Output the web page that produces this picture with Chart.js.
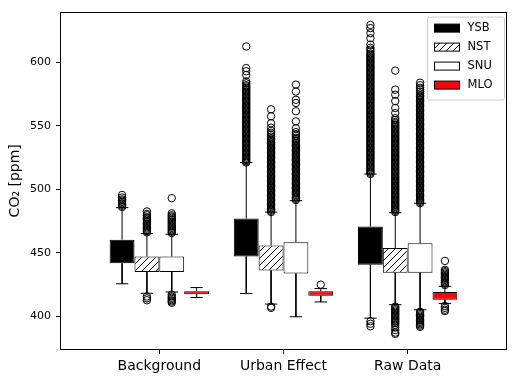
<!DOCTYPE html>
<html>
<head>
<meta charset="utf-8">
<script src="https://cdn.jsdelivr.net/npm/chart.js@4.4.1/dist/chart.umd.min.js"></script>
<style>
  html, body { margin: 0; padding: 0; background: #fff; }
</style>
</head>
<body>
<canvas id="boxChart" width="515" height="382"></canvas>
<script>
const groups = ['Background', 'Urban Effect', 'Raw Data'];
const stations = ['YSB', 'NST', 'SNU', 'MLO'];

// box = [q1, q3], whisker = [low end, high end], one entry per group
const ysbBox = [[441.6, 460.2], [447.0, 477.0], [440.5, 470.6]];
const ysbWhisker = [[425.5, 485.5], [417.8, 521.0], [398.4, 512.0]];
const nstBox = [[434.7, 447.0], [436.0, 455.7], [434.2, 453.6]];
const nstWhisker = [[418.0, 465.0], [409.5, 482.0], [409.0, 481.5]];
const snuBox = [[434.7, 447.0], [433.5, 458.3], [434.2, 457.5]];
const snuWhisker = [[419.0, 464.5], [399.5, 491.0], [405.0, 489.0]];
const mloBox = [[417.3, 419.6], [416.0, 419.6], [413.0, 419.0]];
const mloWhisker = [[414.7, 422.5], [411.2, 421.7], [410.0, 423.5]];

// outliers (dense columns listed point by point)
const ysbFliers = [
  [486, 487, 488, 489, 490, 491, 492, 493.5, 495.5],
  [521, 522, 523, 524, 525, 526, 527, 528, 529, 530, 531, 532, 533, 534, 535, 536, 537, 538, 539, 540,
   541, 542, 543, 544, 545, 546, 547, 548, 549, 550, 551, 552, 553, 554, 555, 556, 557, 558, 559, 560,
   561, 562, 563, 564, 565, 566, 567, 568, 569, 570, 571, 572, 573, 574, 575, 576, 577, 578, 579, 580,
   581, 582, 583.5, 585, 590, 593, 595.5, 612.5],
  [392, 394, 396, 512, 513, 514, 515, 516, 517, 518, 519, 520, 521, 522, 523, 524, 525, 526, 527, 528,
   529, 530, 531, 532, 533, 534, 535, 536, 537, 538, 539, 540, 541, 542, 543, 544, 545, 546, 547, 548,
   549, 550, 551, 552, 553, 554, 555, 556, 557, 558, 559, 560, 561, 562, 563, 564, 565, 566, 567, 568,
   569, 570, 571, 572, 573, 574, 575, 576, 577, 578, 579, 580, 581, 582, 583, 584, 585, 586, 587, 588,
   589, 590, 591, 592, 593, 594, 595, 596, 597, 598, 599, 600, 601, 602, 603, 604, 605, 606, 607, 608.5,
   610, 611.5, 614, 619, 623, 627, 629.5]
];
const nstFliers = [
  [412.5, 414, 415.5, 466, 467, 468, 469, 470, 471, 472, 473, 474, 475, 476, 477, 478, 479.5, 480.5, 482.5],
  [406.5, 407.5, 482, 483, 484, 485, 486, 487, 488, 489, 490, 491, 492, 493, 494, 495, 496, 497, 498, 499,
   500, 501, 502, 503, 504, 505, 506, 507, 508, 509, 510, 511, 512, 513, 514, 515, 516, 517, 518, 519,
   520, 521, 522, 523, 524, 525, 526, 527, 528, 529, 530, 531, 532, 533, 534, 535, 536, 537, 538, 539,
   540, 541.5, 543, 544.5, 546, 548.5, 552, 557.5, 563],
  [386, 387, 389, 391, 393, 394.5, 395.5, 396.5, 397.5, 398.5, 399.5, 400.5, 401.5, 402.5, 403.5, 404.5,
   405.5, 406.5, 407.5, 482, 483, 484, 485, 486, 487, 488, 489, 490, 491, 492, 493, 494, 495, 496, 497,
   498, 499, 500, 501, 502, 503, 504, 505, 506, 507, 508, 509, 510, 511, 512, 513, 514, 515, 516, 517,
   518, 519, 520, 521, 522, 523, 524, 525, 526, 527, 528, 529, 530, 531, 532, 533, 534, 535, 536, 537,
   538, 539, 540, 541, 542, 543, 544, 545, 546, 547, 548, 549, 550, 551, 552, 553, 554.5, 556, 560, 564,
   569.5, 574.5, 578.5, 593.5]
];
const snuFliers = [
  [410.5, 411.5, 412.5, 413.5, 414.5, 415.5, 417, 465.5, 466.5, 467.5, 468.5, 469.5, 470.5, 471.5, 472.5, 473.5,
   474.5, 475.5, 476.5, 477.5, 478.5, 479.5, 481, 493],
  [491.5, 492.5, 493.5, 494.5, 495.5, 496.5, 497.5, 498.5, 499.5, 500.5, 501.5, 502.5, 503.5, 504.5, 505.5, 506.5,
   507.5, 508.5, 509.5, 510.5, 511.5, 512.5, 513.5, 514.5, 515.5, 516.5, 517.5, 518.5, 519.5, 520.5, 521.5, 522.5,
   523.5, 524.5, 525.5, 526.5, 527.5, 528.5, 529.5, 530.5, 531.5, 532.5, 533.5, 534.5, 535.5, 536.5, 537.5, 538.5,
   539.5, 540.5, 542, 543.5, 545, 548, 553.5, 561.5, 568, 570.5, 577, 582.5],
  [391.5, 392.5, 393.5, 394.5, 395.5, 396.5, 397.5, 398.5, 399.5, 400.5, 401.5, 402.5, 403.5, 489, 490, 491, 492,
   493, 494, 495, 496, 497, 498, 499, 500, 501, 502, 503, 504, 505, 506, 507, 508, 509, 510, 511, 512, 513, 514,
   515, 516, 517, 518, 519, 520, 521, 522, 523, 524, 525, 526, 527, 528, 529, 530, 531, 532, 533, 534, 535, 536,
   537, 538, 539, 540, 541, 542, 543, 544, 545, 546, 547, 548, 549, 550, 551, 552, 553, 554, 555, 556, 557, 558,
   559, 560, 561, 562, 563, 564, 565, 566, 567, 568, 569, 570, 571, 572, 573, 574, 575.5, 577, 578.5, 580, 582,
   584]
];
const mloFliers = [
  [],
  [424.8],
  [404, 405, 406.5, 408, 424.5, 425.5, 426.5, 427.5, 428.5, 429.5, 430.5, 431.5, 432.5, 433.5, 434.5, 435.5,
   436.5, 443.5]
];

const yTicks = [400, 450, 500, 550, 600];

const boxes = [ysbBox, nstBox, snuBox, mloBox];
const whiskers = [ysbWhisker, nstWhisker, snuWhisker, mloWhisker];
const fliers = [ysbFliers, nstFliers, snuFliers, mloFliers];

const canvas = document.getElementById('boxChart');
const ctx = canvas.getContext('2d');

function makeHatch() {
  const size = 7;
  const tile = document.createElement('canvas');
  tile.width = size;
  tile.height = size;
  const t = tile.getContext('2d');
  t.fillStyle = '#ffffff';
  t.fillRect(0, 0, size, size);
  t.strokeStyle = '#000000';
  t.lineWidth = 1;
  t.beginPath();
  t.moveTo(0, size); t.lineTo(size, 0);
  t.moveTo(-1, 1); t.lineTo(1, -1);
  t.moveTo(size - 1, size + 1); t.lineTo(size + 1, size - 1);
  t.stroke();
  return ctx.createPattern(tile, 'repeat');
}

const fills = ['#000000', makeHatch(), '#ffffff', '#ff0000'];
const boxWidth = 0.2;   // in x units, 4 boxes per group
const capHalf = 0.05;

function xPos(g, s) {
  return g + 1 + (s - 1.5) * boxWidth;
}

const datasets = [];

stations.forEach((name, s) => {
  datasets.push({
    type: 'bar',
    label: name,
    data: boxes[s].map((b, g) => ({ x: g + 1, y: b })),
    backgroundColor: fills[s],
    borderColor: '#000000',
    borderWidth: 1,
    borderSkipped: false,
    categoryPercentage: 0.8,
    barPercentage: 1.0,
    order: 1
  });
});

stations.forEach((name, s) => {
  const pts = [];
  whiskers[s].forEach((w, g) => {
    const x = xPos(g, s);
    const [q1, q3] = boxes[s][g];
    pts.push({ x, y: q3 }, { x, y: w[1] }, { x, y: null });
    pts.push({ x: x - capHalf, y: w[1] }, { x: x + capHalf, y: w[1] }, { x, y: null });
    pts.push({ x, y: q1 }, { x, y: w[0] }, { x, y: null });
    pts.push({ x: x - capHalf, y: w[0] }, { x: x + capHalf, y: w[0] }, { x, y: null });
  });
  datasets.push({
    type: 'line',
    label: name + ' whiskers',
    data: pts,
    borderColor: '#000000',
    borderWidth: 1,
    pointRadius: 0,
    fill: false,
    spanGaps: false,
    order: 2
  });
});

stations.forEach((name, s) => {
  const pts = [];
  fliers[s].forEach((list, g) => {
    list.forEach(v => pts.push({ x: xPos(g, s), y: v }));
  });
  datasets.push({
    type: 'scatter',
    label: name + ' outliers',
    data: pts,
    pointStyle: 'circle',
    pointRadius: 3.7,
    pointBorderColor: '#000000',
    pointBackgroundColor: 'rgba(0,0,0,0)',
    pointBorderWidth: 1,
    showLine: false,
    order: 0
  });
});

const framePlugin = {
  id: 'frame',
  afterDatasetsDraw(chart) {
    const { left, top, right, bottom } = chart.chartArea;
    const c = chart.ctx;
    c.save();
    c.strokeStyle = '#000000';
    c.lineWidth = 1;
    c.strokeRect(Math.round(left) + 0.5, Math.round(top) + 0.5, Math.round(right - left) - 1, Math.round(bottom - top) - 1);
    c.restore();
  }
};

const legendPlugin = {
  id: 'boxLegend',
  afterDraw(chart) {
    const c = chart.ctx;
    const area = chart.chartArea;
    const w = 77, h = 83;
    const x0 = area.right - w - 2.5;
    const y0 = area.top + 5.5;
    c.save();
    c.beginPath();
    c.roundRect(x0, y0, w, h, 2);
    c.fillStyle = 'rgba(255,255,255,0.8)';
    c.fill();
    c.strokeStyle = '#cccccc';
    c.lineWidth = 1;
    c.stroke();
    c.font = '11.5px "DejaVu Sans"';
    c.textBaseline = 'middle';
    c.textAlign = 'left';
    stations.forEach((name, s) => {
      const cy = y0 + 11 + s * 19;
      c.fillStyle = fills[s];
      c.fillRect(x0 + 7, cy - 4, 25, 8);
      c.strokeStyle = '#000000';
      c.strokeRect(x0 + 7, cy - 4, 25, 8);
      c.fillStyle = '#000000';
      c.fillText(name, x0 + 40, cy);
    });
    c.restore();
  }
};

Chart.defaults.font.family = '"DejaVu Sans", sans-serif';
Chart.defaults.color = '#000000';

new Chart(ctx, {
  type: 'bar',
  data: { datasets },
  options: {
    responsive: false,
    devicePixelRatio: 1,
    animation: false,
    events: [],
    layout: { padding: { left: 4, right: 8, top: 10, bottom: 0 } },
    plugins: {
      legend: { display: false },
      tooltip: { enabled: false }
    },
    scales: {
      x: {
        type: 'linear',
        min: 0.2,
        max: 3.8,
        offset: false,
        grid: { display: true, offset: false, drawOnChartArea: false, drawTicks: true, tickLength: 4, color: '#000000' },
        border: { display: false },
        ticks: {
          font: { size: 14 },
          color: '#000000',
          padding: 4,
          maxRotation: 0,
          callback: (v) => groups[v - 1] || ''
        },
        afterBuildTicks: (scale) => {
          scale.ticks = groups.map((g, i) => ({ value: i + 1 }));
        },
        afterFit: (scale) => { scale.height = 32; }
      },
      y: {
        type: 'linear',
        min: 373.3,
        max: 640,
        grid: { display: true, drawOnChartArea: false, drawTicks: true, tickLength: 4, color: '#000000' },
        border: { display: false },
        ticks: { font: { size: 11 }, color: '#000000', padding: 5, includeBounds: false },
        afterBuildTicks: (scale) => {
          scale.ticks = yTicks.map(v => ({ value: v }));
        },
        title: { display: true, text: 'CO₂ [ppm]', font: { size: 14 }, color: '#000000', padding: { top: 3, bottom: 0 } },
        afterFit: (scale) => { scale.width = 56; }
      }
    }
  },
  plugins: [framePlugin, legendPlugin]
});
</script>
</body>
</html>
